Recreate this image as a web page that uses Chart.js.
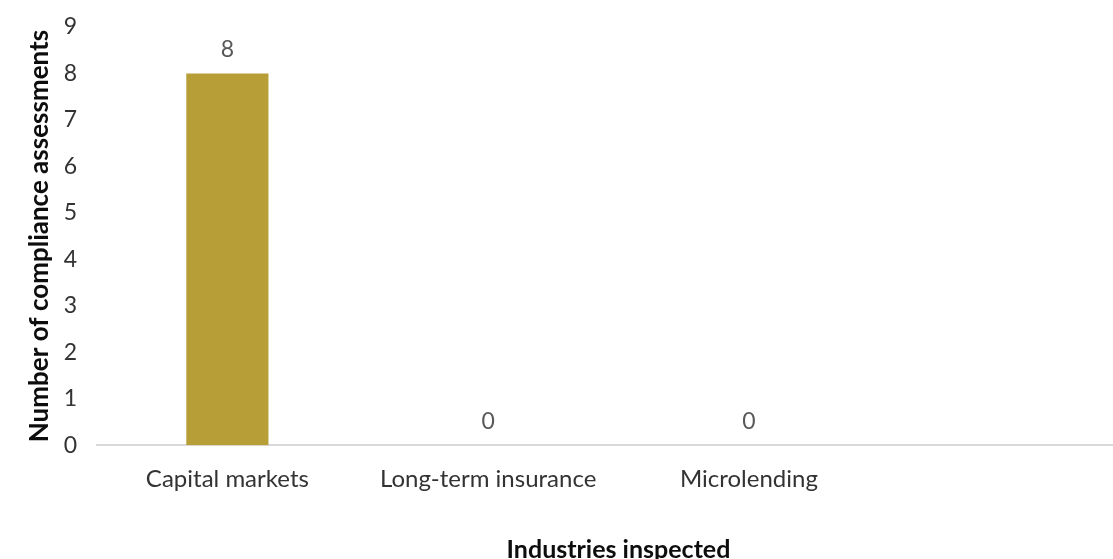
<!DOCTYPE html>
<html>
<head>
<meta charset="utf-8">
<script src="https://cdn.jsdelivr.net/npm/chart.js@4.4.1/dist/chart.umd.min.js"></script>
<style>
  html, body { margin: 0; padding: 0; background: #fff; overflow: hidden; }
  #wrap { position: relative; width: 1140px; height: 565px; }
</style>
</head>
<body>
<div id="wrap"><canvas id="chart"></canvas></div>
<script>
    "use strict";

    // data
    var categories = ["Capital markets", "Long-term insurance", "Microlending", ""];
    var assessments = [8, 0, 0, null];
    var yTicks = [0, 1, 2, 3, 4, 5, 6, 7, 8, 9];

    var fontFamily = "Lato, 'Open Sans', sans-serif";

    // value labels above the bars
    var valueLabels = {
        id: "valueLabels",
        afterDatasetsDraw: function (chart) {
            var ctx = chart.ctx;
            var meta = chart.getDatasetMeta(0);
            ctx.save();
            ctx.fillStyle = "#595959";
            ctx.font = "23px " + fontFamily;
            ctx.textAlign = "center";
            ctx.textBaseline = "middle";
            meta.data.forEach(function (bar, i) {
                var v = assessments[i];
                if (v === null) return;
                ctx.fillText(String(v), bar.x, bar.y - 24);
            });
            ctx.restore();
        }
    };

    var ctx = document.getElementById("chart").getContext("2d");
    var myChart = new Chart(ctx, {
        type: "bar",
        data: {
            labels: categories,
            datasets: [{
                label: "Compliance assessments",
                data: assessments,
                backgroundColor: "#B89E37",
                barPercentage: 1,
                categoryPercentage: 0.315
            }]
        },
        options: {
            responsive: true,
            maintainAspectRatio: false,
            animation: false,
            layout: { padding: { top: 0, right: 0, bottom: 0, left: 24 } },
            plugins: {
                legend: { display: false },
                tooltip: { enabled: false }
            },
            scales: {
                x: {
                    grid: { display: false, drawTicks: false },
                    border: { color: "#d9d9d9", width: 2 },
                    ticks: { color: "#333333", font: { family: fontFamily, size: 24 }, padding: 20, maxRotation: 0 },
                    title: {
                        display: true,
                        text: "Industries inspected",
                        color: "#0d0d0d",
                        font: { family: fontFamily, size: 25, weight: "bold" },
                        padding: { top: 21, bottom: 0 }
                    }
                },
                y: {
                    min: 0,
                    max: 9,
                    afterBuildTicks: function (scale) {
                        scale.ticks = yTicks.map(function (v) { return { value: v }; });
                    },
                    afterFit: function (scale) {
                        scale.width = 73;
                    },
                    grid: { display: false, drawTicks: false },
                    border: { display: false },
                    ticks: { color: "#333333", font: { family: fontFamily, size: 23, lineHeight: 0.6 }, padding: 20 },
                    title: {
                        display: true,
                        text: "Number of compliance assessments",
                        color: "#0d0d0d",
                        font: { family: fontFamily, size: 26, weight: "bold" },
                        padding: { top: 0, bottom: 0 }
                    }
                }
            }
        },
        plugins: [valueLabels]
    });
</script>
</body>
</html>
